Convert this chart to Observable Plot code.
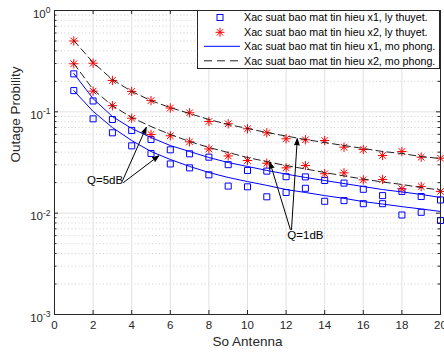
<!DOCTYPE html>
<html><head><meta charset="utf-8">
<script src="https://cdn.jsdelivr.net/npm/d3@7"></script>
<script src="https://cdn.jsdelivr.net/npm/@observablehq/plot@0.6"></script>
<style>
body{margin:0;background:#fff;}
#wrap{position:relative;width:444px;height:352px;font-family:"Liberation Sans",Arial,Helvetica,sans-serif;}
#legend{position:absolute;left:197px;top:10px;}
</style></head><body><div id="wrap"></div>
<script>
const antennas = [1,2,3,4,5,6,7,8,9,10,11,12,13,14,15,16,17,18,19,20];
// theory (markers)
const thX2Q1 = [0.50,0.302,0.204,0.159,0.129,0.109,0.0978,0.0803,0.0762,0.0680,0.0621,0.0542,0.0530,0.0521,0.0448,0.0425,0.0371,0.0406,0.0357,0.0349];
const thX2Q5 = [0.298,0.160,0.115,0.0865,0.0598,0.0580,0.0506,0.0430,0.0367,0.0331,0.0311,0.0280,0.0295,0.0245,0.0250,0.0213,0.0215,0.0174,0.0183,0.0164];
const thX1Q1 = [0.237,0.128,0.0840,0.0655,0.0533,0.0422,0.0385,0.0357,0.0301,0.0264,0.0260,0.0229,0.0228,0.0210,0.0198,0.0172,0.0149,0.0164,0.0146,0.0135];
const thX1Q5 = [0.162,0.0853,0.0621,0.0462,0.0388,0.0306,0.0280,0.0239,0.0185,0.0182,0.0145,0.0160,0.0176,0.0131,0.0133,0.0124,0.0124,0.00959,0.0102,0.00847];
// simulation (lines)
const simX2Q1 = [0.506,0.307,0.208,0.159,0.129,0.110,0.0963,0.0840,0.0750,0.0685,0.0625,0.0577,0.0533,0.0498,0.0465,0.0435,0.0406,0.0388,0.0362,0.0346];
const simX2Q5 = [0.300,0.166,0.115,0.0879,0.0716,0.0598,0.0509,0.0445,0.0397,0.0354,0.0323,0.0295,0.0273,0.0252,0.0233,0.0217,0.0203,0.0192,0.0179,0.0169];
const simX1Q1 = [0.239,0.135,0.0899,0.0685,0.0558,0.0465,0.0406,0.0354,0.0316,0.0289,0.0264,0.0243,0.0225,0.0210,0.0196,0.0183,0.0171,0.0162,0.0153,0.0143];
const simX1Q5 = [0.162,0.101,0.0700,0.0521,0.0406,0.0339,0.0289,0.0252,0.0225,0.0205,0.0188,0.0171,0.0160,0.0149,0.0140,0.0130,0.0123,0.0116,0.0110,0.0104];

const xTicks = [0,2,4,6,8,10,12,14,16,18,20];
const yMajor = [0.001,0.01,0.1,1];
const yMinor = [2,3,4,5,6,7,8,9].flatMap(m => [0.001,0.01,0.1].map(d => +(m*d).toPrecision(3)));

const legendLabels = [
  "Xac suat bao mat tin hieu x1, ly thuyet.",
  "Xac suat bao mat tin hieu x2, ly thuyet.",
  "Xac suat bao mat tin hieu x1, mo phong.",
  "Xac suat bao mat tin hieu x2, mo phong."
];
const xLabel = "So Antenna";
const yLabel = "Outage Probility";
const noteLabels = [{text:"Q=5dB", x:2.62, y:0.0210},{text:"Q=1dB", x:13.0, y:0.00600}];
const noteArrows = [
  {x1:3.53, y1:0.0210, x2:4.75, y2:0.0700},
  {x1:3.58, y1:0.0201, x2:5.40, y2:0.0368},
  {x1:12.22, y1:0.00690, x2:11.16, y2:0.0318},
  {x1:12.28, y1:0.00690, x2:12.58, y2:0.0542}
];

const toRows = arr => antennas.map((n,i) => ({n, v: arr[i]}));

const W = 444, H = 352, mL = 54, mR = 4, mT = 10, mB = 38;
const plotW = W - mL - mR, plotH = H - mT - mB;
const axisColor = "#262626";
const BLUE = "#0000ff", RED = "#ff0000";

const chart = Plot.plot({
  width: W, height: H,
  marginLeft: mL, marginRight: mR, marginTop: mT, marginBottom: mB,
  style: {fontFamily: '"Liberation Sans",Arial,Helvetica,sans-serif', fontSize: "11.5px", background: "#fff", color: axisColor},
  x: {domain: [0,20]},
  y: {type: "log", domain: [0.001, 1]},
  marks: [
    Plot.ruleY(yMinor, {stroke: "#cfcfcf", strokeDasharray: "1,2.5"}),
    Plot.ruleX(xTicks, {stroke: "#e1e1e1"}),
    Plot.ruleY(yMajor, {stroke: "#e1e1e1"}),
    // theory markers
    Plot.dot(toRows(thX1Q1), {x:"n", y:"v", symbol:"square", r:3.4, stroke:BLUE, strokeWidth:1}),
    Plot.dot(toRows(thX1Q5), {x:"n", y:"v", symbol:"square", r:3.4, stroke:BLUE, strokeWidth:1}),
    ...[thX2Q1, thX2Q5].flatMap(a => [
      Plot.dot(toRows(a), {x:"n", y:"v", symbol:"plus", r:3.1, stroke:RED, strokeWidth:1}),
      Plot.dot(toRows(a), {x:"n", y:"v", symbol:"times", r:3.1, stroke:RED, strokeWidth:1})
    ]),
    // simulation lines
    Plot.line(toRows(simX1Q1), {x:"n", y:"v", stroke:BLUE, strokeWidth:1}),
    Plot.line(toRows(simX1Q5), {x:"n", y:"v", stroke:BLUE, strokeWidth:1}),
    Plot.line(toRows(simX2Q1), {x:"n", y:"v", stroke:"#222", strokeWidth:1, strokeDasharray:"7,4"}),
    Plot.line(toRows(simX2Q5), {x:"n", y:"v", stroke:"#222", strokeWidth:1, strokeDasharray:"7,4"}),
    // annotations
    Plot.arrow(noteArrows, {x1:"x1", y1:"y1", x2:"x2", y2:"y2", stroke:"#000", fill:"#000", strokeWidth:1, headLength:10, headAngle:40}),
    Plot.text(noteLabels, {x:"x", y:"y", text:"text", fontSize:11.5, fill:"#000"}),
    // frame and ticks
    Plot.frame({stroke: axisColor, strokeWidth: 1}),
    Plot.ruleX(xTicks, {insetTop: plotH - 4, stroke: axisColor}),
    Plot.ruleX(xTicks, {insetBottom: plotH - 4, stroke: axisColor}),
    Plot.ruleY(yMajor, {insetRight: plotW - 4, stroke: axisColor}),
    Plot.ruleY(yMajor, {insetLeft: plotW - 4, stroke: axisColor}),
    Plot.ruleY(yMinor, {insetRight: plotW - 2.5, stroke: axisColor}),
    Plot.ruleY(yMinor, {insetLeft: plotW - 2.5, stroke: axisColor}),
    Plot.axisX({ticks: xTicks, tickSize: 0, tickPadding: 6, label: null, fill: axisColor}),
    Plot.axisY({ticks: yMajor, tickSize: 0, tickPadding: 4, label: null, fill: axisColor,
      tickFormat: d => "10^" + Math.round(Math.log10(d))}),
    Plot.text([xLabel], {text: d => d, frameAnchor: "bottom", dy: 31, fontSize: 13.5, fill: axisColor}),
    Plot.text([yLabel], {text: d => d, frameAnchor: "left", rotate: -90, dx: -39, fontSize: 13.5, fill: axisColor})
  ]
});

// superscript exponents on y tick labels
chart.querySelectorAll("text").forEach(t => {
  const m = /^10\^(-?\d+)$/.exec(t.textContent);
  if (!m) return;
  t.textContent = "";
  const ns = "http://www.w3.org/2000/svg";
  const b = document.createElementNS(ns, "tspan");
  b.textContent = "10"; b.setAttribute("dy", "0.3em");
  const s = document.createElementNS(ns, "tspan");
  s.textContent = m[1]; s.setAttribute("dy", "-0.55em"); s.setAttribute("font-size", "8.5px");
  t.appendChild(b); t.appendChild(s);
});

const wrap = document.getElementById("wrap");
wrap.appendChild(chart);

// legend
const lg = d3.select(wrap).append("svg").attr("id","legend")
  .attr("width", 243).attr("height", 60);
lg.append("rect").attr("x",0.5).attr("y",0.5).attr("width",242).attr("height",58)
  .attr("fill","#fff").attr("stroke",axisColor).attr("stroke-width",1);
const rowsY = [7.5, 22.3, 36.3, 50.8];
lg.append("rect").attr("x",23-3).attr("y",rowsY[0]-3).attr("width",6).attr("height",6)
  .attr("fill","none").attr("stroke",BLUE);
lg.append("path").attr("d", `M${23-4.5},${rowsY[1]}h9M23,${rowsY[1]-4.5}v9M${23-3.2},${rowsY[1]-3.2}l6.4,6.4M${23-3.2},${rowsY[1]+3.2}l6.4,-6.4`)
  .attr("stroke",RED).attr("fill","none");
lg.append("line").attr("x1",7).attr("x2",43).attr("y1",rowsY[2]).attr("y2",rowsY[2]).attr("stroke",BLUE);
lg.append("line").attr("x1",7).attr("x2",43).attr("y1",rowsY[3]).attr("y2",rowsY[3]).attr("stroke","#222").attr("stroke-dasharray","8,5");
legendLabels.forEach((t,i) => {
  lg.append("text").attr("x",47).attr("y",rowsY[i]).attr("dy","0.35em")
    .attr("font-size","10.7px").attr("fill","#000")
    .attr("font-family",'"Liberation Sans",Arial,Helvetica,sans-serif').text(t);
});
</script>
</body></html>
